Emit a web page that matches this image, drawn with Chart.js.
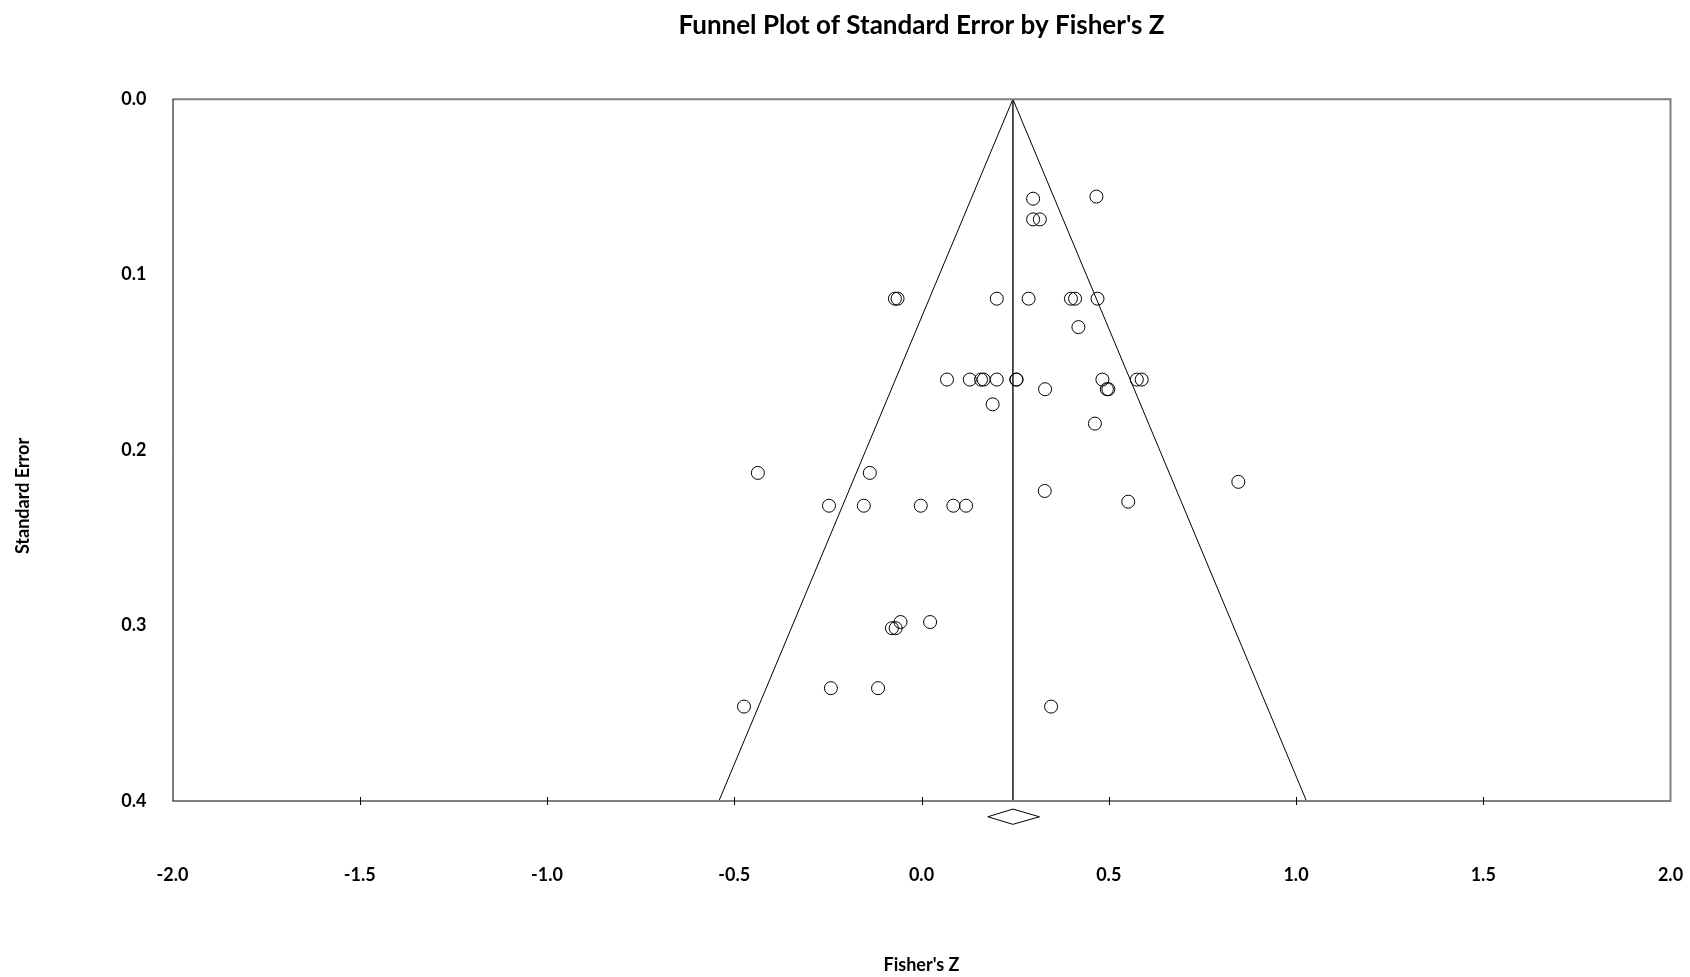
<!DOCTYPE html>
<html>
<head>
<meta charset="utf-8">
<title>Funnel Plot of Standard Error by Fisher's Z</title>
<script src="https://cdn.jsdelivr.net/npm/chart.js@4/dist/chart.umd.min.js"></script>
<style>
  html, body { margin: 0; padding: 0; background: #fff; }
  #wrap { width: 1690px; height: 977px; }
</style>
</head>
<body>
<div id="wrap"><canvas id="funnelChart" width="1690" height="977"></canvas></div>
<script>
// Study points
const fisherZ = [
    0.298, 0.467, 0.298, 0.316,
    -0.071, -0.064, 0.201, 0.286, 0.399, 0.410, 0.470, 0.419,
    0.068, 0.129, 0.159, 0.166, 0.201, 0.253, 0.254, 0.483, 0.575, 0.588,
    0.330, 0.495, 0.499, 0.190, 0.463,
    -0.437, -0.138, -0.247, -0.154, -0.002, 0.085, 0.119, 0.329, 0.552, 0.846,
    -0.056, -0.079, -0.069, 0.023, -0.242, -0.116, -0.474, 0.346
];
const standardError = [
    0.0567, 0.0555, 0.0685, 0.0685,
    0.1137, 0.1137, 0.1137, 0.1137, 0.1137, 0.1137, 0.1137, 0.1299,
    0.1598, 0.1598, 0.1598, 0.1598, 0.1598, 0.1598, 0.1598, 0.1598, 0.1598, 0.1598,
    0.1653, 0.1653, 0.1653, 0.1739, 0.1849,
    0.2130, 0.2130, 0.2317, 0.2317, 0.2317, 0.2317, 0.2317, 0.2233, 0.2294, 0.2181,
    0.2980, 0.3015, 0.3015, 0.2980, 0.3357, 0.3357, 0.3462, 0.3462
];

// Funnel (95% limits), mean line and summary diamond
const funnelZ = [-0.541, 0.244, 1.028];
const funnelSE = [0.4, 0.0, 0.4];
const meanZ = [0.244, 0.244];
const meanSE = [0.0, 0.4];
const diamondZ = [0.177, 0.244, 0.315, 0.244, 0.177];
const diamondSE = [0.409, 0.4046, 0.409, 0.4133, 0.409];

const FONT = "Lato, 'Liberation Sans', sans-serif";

const zip = (xs, ys) => xs.map((x, i) => ({ x, y: ys[i] }));

// frame, inner tick marks on the Z axis, and the y axis title
const frameAndTicks = {
    id: 'frameAndTicks',
    afterDatasetsDraw(chart) {
        const { ctx, chartArea: a, scales } = chart;
        ctx.save();
        ctx.strokeStyle = '#7f7f7f';
        ctx.lineWidth = 2;
        ctx.beginPath();
        ctx.moveTo(a.left, a.top);
        ctx.lineTo(a.right, a.top);
        ctx.lineTo(a.right, a.bottom);
        ctx.lineTo(a.left, a.bottom);
        ctx.stroke();

        ctx.strokeStyle = '#000';
        ctx.lineWidth = 1;
        ctx.beginPath();
        ctx.moveTo(a.left + 0.5, a.top);
        ctx.lineTo(a.left + 0.5, a.bottom);
        ctx.stroke();

        const ticks = scales.x.ticks;
        ctx.beginPath();
        ticks.slice(1, -1).forEach(t => {
            const px = Math.round(scales.x.getPixelForValue(t.value)) + 0.5;
            ctx.moveTo(px, a.bottom - 4);
            ctx.lineTo(px, a.bottom + 4);
        });
        ctx.stroke();

        ctx.translate(23, 496);
        ctx.rotate(-Math.PI / 2);
        ctx.fillStyle = '#000';
        ctx.font = 'bold 18px ' + FONT;
        ctx.textAlign = 'center';
        ctx.textBaseline = 'middle';
        ctx.fillText('Standard Error', 0, 0);
        ctx.restore();
    }
};

new Chart(document.getElementById('funnelChart'), {
    type: 'scatter',
    data: {
        datasets: [
            {
                label: 'Studies',
                data: zip(fisherZ, standardError),
                pointRadius: 6.5,
                pointBorderWidth: 1,
                pointBorderColor: '#000',
                pointBackgroundColor: 'rgba(0,0,0,0)',
                showLine: false
            },
            {
                label: 'Funnel',
                data: zip(funnelZ, funnelSE),
                showLine: true,
                borderColor: '#000',
                borderWidth: 1,
                pointRadius: 0,
                fill: false
            },
            {
                label: 'Mean',
                data: zip(meanZ, meanSE),
                showLine: true,
                borderColor: '#333',
                borderWidth: 1,
                pointRadius: 0,
                fill: false
            },
            {
                label: 'Summary',
                data: zip(diamondZ, diamondSE),
                showLine: true,
                borderColor: '#000',
                borderWidth: 1,
                pointRadius: 0,
                fill: false,
                clip: false
            }
        ]
    },
    options: {
        responsive: false,
        animation: false,
        devicePixelRatio: 1,
        layout: { padding: { left: 0, right: 19.5, top: 0, bottom: 0 } },
        plugins: {
            legend: { display: false },
            tooltip: { enabled: false },
            title: {
                display: true,
                fullSize: false, // centre over the plot area, not the canvas
                text: "Funnel Plot of Standard Error by Fisher's Z",
                color: '#000',
                font: { family: FONT, size: 26, weight: 'bold' },
                padding: { top: 10, bottom: 58 }
            }
        },
        scales: {
            x: {
                type: 'linear',
                min: -2,
                max: 2,
                // invisible ticks only push the labels down
                grid: { display: true, drawOnChartArea: false, drawTicks: true, tickLength: 60, tickColor: 'rgba(0,0,0,0)' },
                border: { display: false },
                ticks: {
                    stepSize: 0.5,
                    autoSkip: false,
                    maxRotation: 0,
                    padding: 3,
                    color: '#000',
                    font: { family: FONT, size: 18, weight: 'bold' },
                    callback: v => Number(v).toFixed(1)
                },
                title: {
                    display: true,
                    text: "Fisher's Z",
                    color: '#000',
                    font: { family: FONT, size: 18, weight: 'bold' },
                    padding: { top: 0, bottom: 1 }
                },
                afterFit: s => { s.height = 176; }
            },
            y: {
                type: 'linear',
                reverse: true,
                min: 0,
                max: 0.4,
                grid: { display: false },
                border: { display: false },
                ticks: {
                    stepSize: 0.1,
                    padding: 18,
                    color: '#000',
                    font: { family: FONT, size: 18, weight: 'bold' },
                    callback: v => Number(v).toFixed(1)
                },
                afterFit: s => { s.width = 172.5; }
            }
        }
    },
    plugins: [frameAndTicks]
});
</script>
</body>
</html>
